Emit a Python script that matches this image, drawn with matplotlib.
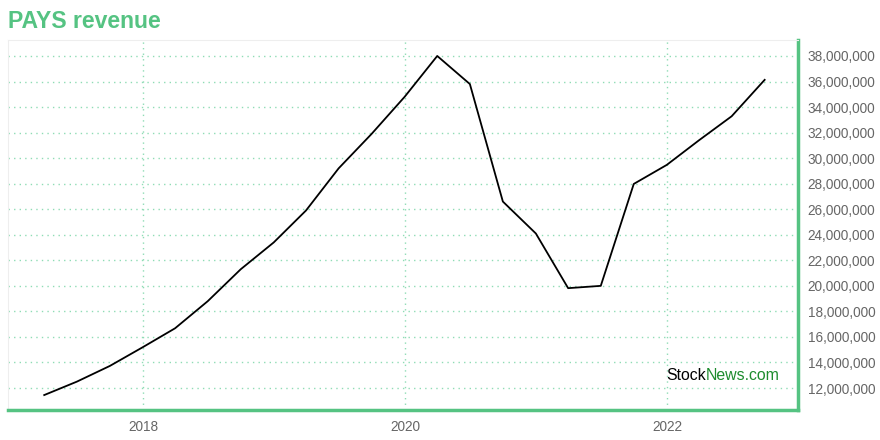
import numpy as np
import pandas as pd
import matplotlib
matplotlib.use("Agg")
import matplotlib.pyplot as plt
import matplotlib.dates as mdates
from matplotlib.ticker import FuncFormatter, MultipleLocator

# quarterly revenue
quarters = pd.date_range("2017-03-31", "2022-09-30", freq="QE")
revenue = [11.45, 12.5, 13.73, 15.2, 16.68, 18.8, 21.3, 23.4, 25.9, 29.2,
           31.9, 34.8, 38.0, 35.8, 26.6, 24.1, 19.82, 20.0, 27.98, 29.47,
           31.4, 33.28, 36.13]
revenue = np.array(revenue) * 1e6

title = "PAYS revenue"
green = "#55c382"
grid_green = "#8fdcb5"

plt.rcParams['font.family'] = ['Liberation Sans', 'DejaVu Sans']

fig = plt.figure(figsize=(8.8, 4.4), dpi=100)
ax = fig.add_axes([8 / 880, 30 / 440, 790 / 880, 370 / 440])

ax.plot(quarters, revenue, color="black", linewidth=1.3)

ax.set_xlim(pd.Timestamp("2016-12-20"), pd.Timestamp("2023-01-01"))
ax.set_ylim(10.28e6, 39.25e6)

ax.xaxis.set_major_locator(mdates.YearLocator(2))
ax.xaxis.set_major_formatter(mdates.DateFormatter("%Y"))
ax.yaxis.set_major_locator(MultipleLocator(2e6))
ax.yaxis.set_major_formatter(FuncFormatter(lambda v, p: f"{int(v):,}"))
ax.yaxis.tick_right()

ax.tick_params(axis="both", length=0, labelsize=9.8, labelcolor="#666666")
ax.tick_params(axis="y", pad=7)
ax.tick_params(axis="x", pad=7)

ax.grid(True, color=grid_green, linestyle=(0, (1, 3)), linewidth=1)
ax.set_axisbelow(True)

for side in ["top", "left"]:
    ax.spines[side].set_color("#eeeeee")
    ax.spines[side].set_linewidth(0.8)
for side in ["right", "bottom"]:
    ax.spines[side].set_color(green)
    ax.spines[side].set_linewidth(2.5)

fig.text(8 / 880, 1 - 22 / 440, title, color=green, fontsize=16.6,
         fontweight="bold", ha="left", va="center")

# watermark
t = ax.text(0.833, 0.081, "Stock", transform=ax.transAxes, fontsize=11.4,
            color="black", ha="left", va="baseline")
ax.annotate("News.com", xy=(1, 0), xycoords=t, fontsize=11.4,
            color="#1e8c2e", ha="left", va="bottom")

fig.savefig("out.png", dpi=100)
